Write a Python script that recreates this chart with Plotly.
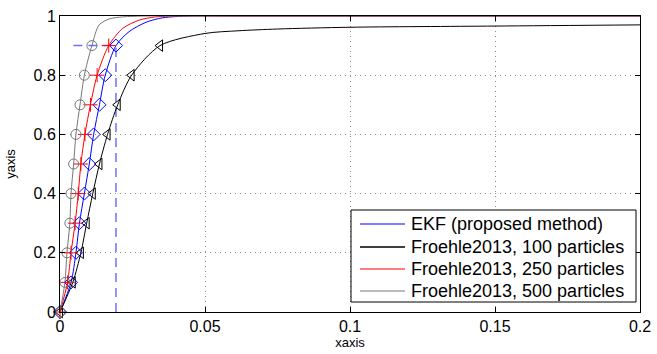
import plotly.graph_objects as go

# CDF levels at which markers are drawn
cdf_levels = [0.0, 0.1, 0.2, 0.3, 0.4, 0.5, 0.6, 0.7, 0.8, 0.9]

# x positions (error) at each CDF level
ekf_x = [0.0, 0.0038, 0.0055, 0.0067, 0.0084, 0.0101, 0.0116, 0.0136, 0.0156, 0.0193]
p100_x = [0.0, 0.0044, 0.0072, 0.0092, 0.0113, 0.0136, 0.0164, 0.0199, 0.0247, 0.0345]
p250_x = [0.0, 0.0026, 0.0038, 0.0052, 0.0063, 0.0072, 0.0086, 0.0105, 0.0128, 0.0168]
p500_x = [0.0, 0.0017, 0.0024, 0.0034, 0.0038, 0.0047, 0.0055, 0.0069, 0.0084, 0.0110]

# curve tails beyond the 0.9 level
ekf_tail_x = [0.0238, 0.0297, 0.0354, 0.045, 0.06, 0.2]
ekf_tail_y = [0.947, 0.979, 0.994, 1.0, 1.0, 1.0]
p100_tail_x = [0.05, 0.0614, 0.075, 0.1, 0.15, 0.2]
p100_tail_y = [0.941, 0.950, 0.956, 0.962, 0.966, 0.970]
p250_tail_x = [0.0216, 0.0273, 0.033, 0.04, 0.055, 0.2]
p250_tail_y = [0.958, 0.986, 0.997, 1.0, 1.0, 1.0]
p500_tail_x = [0.0135, 0.017, 0.0216, 0.03, 0.045, 0.2]
p500_tail_y = [0.97, 0.99, 0.997, 1.0, 1.0, 1.0]

threshold_x = 0.0193
threshold_y = 0.9
threshold_start_x = 0.003

series_names = ["EKF (proposed method)", "Froehle2013, 100 particles",
                "Froehle2013, 250 particles", "Froehle2013, 500 particles"]
series_x = [ekf_x, p100_x, p250_x, p500_x]
tails_x = [ekf_tail_x, p100_tail_x, p250_tail_x, p500_tail_x]
tails_y = [ekf_tail_y, p100_tail_y, p250_tail_y, p500_tail_y]
colors = ["#0000ff", "#000000", "#ff0000", "#777777"]
symbols = ["diamond-open", "triangle-left-open", "cross-thin-open", "circle-open"]

fig = go.Figure()

# dashed threshold guide
fig.add_trace(go.Scatter(
    x=[threshold_x, threshold_x, threshold_start_x], y=[0.0, threshold_y, threshold_y],
    mode="lines", line=dict(color="#6f6fff", width=1.5, dash="9px,6px"),
    showlegend=False, hoverinfo="skip"))

for name, xs, tx, ty, color in zip(series_names, series_x, tails_x, tails_y, colors):
    fig.add_trace(go.Scatter(
        x=xs + tx, y=cdf_levels + ty, mode="lines", name=name, showlegend=False,
        line=dict(color=color, width=1, shape="spline", smoothing=0.8)))

for xs, color, sym in zip(series_x, colors, symbols):
    fig.add_trace(go.Scatter(
        x=xs, y=cdf_levels, mode="markers", showlegend=False, cliponaxis=False,
        marker=dict(symbol=sym, size=10, color=color, line=dict(color=color, width=1))))

axis_common = dict(
    showline=True, linecolor="black", linewidth=1, mirror="ticks",
    ticks="inside", ticklen=5, tickcolor="black",
    showgrid=True, gridcolor="#8a8a8a", griddash="1px,4px", gridwidth=1,
    zeroline=False, tickfont=dict(size=16, color="black"), automargin=False,
)

fig.update_xaxes(range=[0, 0.2], tickvals=[0, 0.05, 0.1, 0.15, 0.2],
                 ticktext=["0", "0.05", "0.1", "0.15", "0.2"],
                 title=dict(text="xaxis", font=dict(size=13), standoff=2), **axis_common)
fig.update_yaxes(range=[0, 1], tickvals=[0, 0.2, 0.4, 0.6, 0.8, 1],
                 ticktext=["0", "0.2", "0.4", "0.6", "0.8", "1"],
                 title=dict(text="yaxis", font=dict(size=13), standoff=14), **axis_common)

# legend box drawn in paper coordinates (plot area: 580 x 296 px)
L, T, W, H = 60, 16, 580, 296
def px(x):
    return (x - L) / W
def py(y):
    return (T + H - y) / H

fig.add_shape(type="rect", xref="paper", yref="paper",
              x0=px(351), x1=px(636), y0=py(302), y1=py(210),
              line=dict(color="black", width=1), fillcolor="white", layer="above")
legend_rows = [224, 247, 269, 291]
legend_widths = [1.2, 1.6, 1.2, 1.0]
for name, color, row, lw in zip(series_names, colors, legend_rows, legend_widths):
    fig.add_shape(type="line", xref="paper", yref="paper",
                  x0=px(360), x1=px(405), y0=py(row), y1=py(row),
                  line=dict(color=color, width=lw), layer="above")
    fig.add_annotation(xref="paper", yref="paper", x=px(409), y=py(row),
                       xanchor="left", yanchor="middle", showarrow=False,
                       text=name, font=dict(size=18, color="black"))

fig.update_layout(
    width=657, height=354,
    margin=dict(l=L, r=657 - L - W, t=T, b=354 - T - H),
    plot_bgcolor="white", paper_bgcolor="white",
    font=dict(family="Liberation Sans, Arial, sans-serif", color="black"),
    showlegend=False,
)

fig.write_html("out.html")
